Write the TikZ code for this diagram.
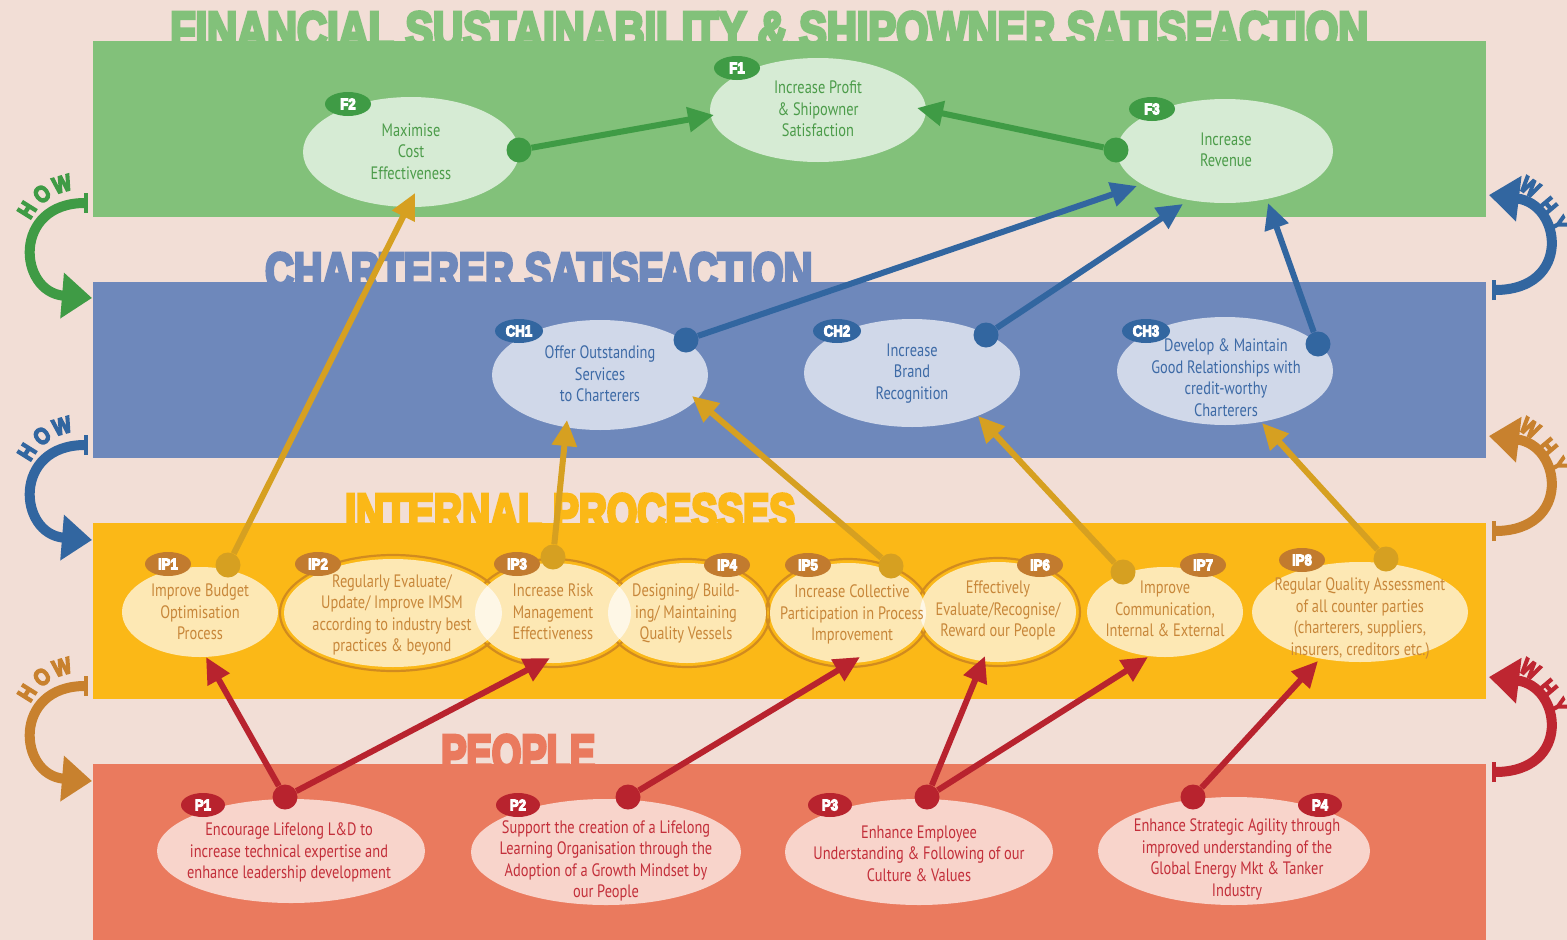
\documentclass[tikz,border=0pt]{standalone}
\usepackage{graphicx}
\usepackage{fontspec}
\setmainfont{PT Sans}
\newfontfamily\titlefont{Liberation Sans}
\usetikzlibrary{shapes.geometric,arrows.meta}
\definecolor{bg}{HTML}{F2DED6}
\definecolor{bandG}{HTML}{82C17A}
\definecolor{bandB}{HTML}{6E88BB}
\definecolor{bandY}{HTML}{FBB817}
\definecolor{bandR}{HTML}{EA7A5E}
\definecolor{darkG}{HTML}{3F9B45}
\definecolor{darkB}{HTML}{3266A0}
\definecolor{darkY}{HTML}{D6A021}
\definecolor{darkIP}{HTML}{C27B2E}
\definecolor{darkR}{HTML}{B8232E}
\definecolor{sideO}{HTML}{C8812E}
\definecolor{sideR}{HTML}{BE2631}
\definecolor{txtG}{HTML}{4C9C4A}
\definecolor{txtB}{HTML}{3D6AA6}
\definecolor{txtY}{HTML}{C8873A}
\definecolor{txtR}{HTML}{C32F3A}
\definecolor{ipline}{HTML}{D18B1F}
\newcommand{\tx}[1]{\scalebox{0.8}[1]{\begin{tabular}{@{}c@{}}#1\end{tabular}}}
\newcommand{\strk}[2]{\special{pdf:literal direct 2 Tr #1 w}#2\special{pdf:literal direct 0 Tr}}
\newcommand{\bx}[1]{\scalebox{0.85}[1]{\strk{1.6}{#1}}}
\newcommand{\bb}[1]{\scalebox{0.85}[1]{\strk{1.1}{#1}}}
\begin{document}
\begin{tikzpicture}[x=1pt,y=-1pt,
  ell/.style={ellipse, inner sep=0pt, fill=white, fill opacity=0.68, draw=none},
  base/.style={ellipse, inner sep=0pt, fill=bandY, draw=none},
  ring/.style={ellipse, inner sep=0pt, draw=ipline, line width=2.2pt},
  txt/.style={inner sep=0pt, font=\fontsize{18}{21.5}\selectfont},
  badge/.style={ellipse, inner sep=0pt, minimum width=46pt, minimum height=24pt, text=white, font=\titlefont\bfseries\fontsize{15.5}{15.5}\selectfont},
  dot/.style={circle, inner sep=0pt, minimum size=25pt},
  conn/.style={line width=6pt, -{Triangle[length=26pt,width=24pt]}},
  side/.style={line width=10pt, {Bar[width=20pt,line width=4pt]}-{Triangle[length=30pt,width=44pt]}},
  ttl/.style={anchor=base west, inner sep=0pt, font=\titlefont\bfseries},
  lbl/.style={inner sep=0pt, font=\titlefont\bfseries\fontsize{23}{23}\selectfont}
]
\useasboundingbox (0,0) rectangle (1567,940);
\fill[bg] (0,0) rectangle (1567,940);

% titles (partly covered by the bands)
\node[ttl, text=bandG] (t1) at (170,48) {\resizebox{1198pt}{36pt}{\strk{0.7}{FINANCIAL SUSTAINABILITY \& SHIPOWNER SATISFACTION}}};
\node[ttl, text=bandB] (t2) at (265,289) {\resizebox{547pt}{36pt}{\strk{0.7}{CHARTERER SATISFACTION}}};
\node[ttl, text=bandY] (t3) at (345,530) {\resizebox{450pt}{36pt}{\strk{0.7}{INTERNAL PROCESSES}}};
\node[ttl, text=bandR] (t4) at (441,771) {\resizebox{154pt}{36pt}{\strk{0.7}{PEOPLE}}};

% bands
\fill[bandG] (93,41) rectangle (1486,217);
\fill[bandB] (93,282) rectangle (1486,458);
\fill[bandY] (93,523) rectangle (1486,699);
\fill[bandR] (93,764) rectangle (1486,940);

% HOW arrows (left)
\coordinate (hs1) at (88,203); \coordinate (he1) at (92,298);
\draw[side, darkG] (hs1) .. controls (12,203) and (18,292) .. (he1);
\node[lbl, text=darkG, rotate=58] (hh1) at (27,210) {\bx{H}};
\node[lbl, text=darkG, rotate=38] (ho1) at (42,194) {\bx{O}};
\node[lbl, text=darkG, rotate=16] (hw1) at (62,184) {\bx{W}};

\coordinate (hs2) at (88,445); \coordinate (he2) at (92,540);
\draw[side, darkB] (hs2) .. controls (12,445) and (18,534) .. (he2);
\node[lbl, text=darkB, rotate=58] (hh2) at (27,452) {\bx{H}};
\node[lbl, text=darkB, rotate=38] (ho2) at (42,436) {\bx{O}};
\node[lbl, text=darkB, rotate=16] (hw2) at (62,426) {\bx{W}};

\coordinate (hs3) at (88,686); \coordinate (he3) at (92,781);
\draw[side, sideO] (hs3) .. controls (12,686) and (18,775) .. (he3);
\node[lbl, text=sideO, rotate=58] (hh3) at (27,693) {\bx{H}};
\node[lbl, text=sideO, rotate=38] (ho3) at (42,677) {\bx{O}};
\node[lbl, text=sideO, rotate=16] (hw3) at (62,667) {\bx{W}};

% WHY arrows (right)
\coordinate (ws1) at (1492,290); \coordinate (we1) at (1489,195);
\draw[side, darkB] (ws1) .. controls (1572,290) and (1562,204) .. (we1);
\node[lbl, text=darkB, rotate=-33] (yw1) at (1530,187) {\bx{W}};
\node[lbl, text=darkB, rotate=-50] (yh1) at (1548,206) {\bx{H}};
\node[lbl, text=darkB, rotate=-63] (yy1) at (1559,224) {\bx{Y}};

\coordinate (ws2) at (1492,531); \coordinate (we2) at (1489,436);
\draw[side, sideO] (ws2) .. controls (1572,531) and (1562,445) .. (we2);
\node[lbl, text=sideO, rotate=-33] (yw2) at (1530,428) {\bx{W}};
\node[lbl, text=sideO, rotate=-50] (yh2) at (1548,447) {\bx{H}};
\node[lbl, text=sideO, rotate=-63] (yy2) at (1559,465) {\bx{Y}};

\coordinate (ws3) at (1492,772); \coordinate (we3) at (1489,677);
\draw[side, sideR] (ws3) .. controls (1572,772) and (1562,686) .. (we3);
\node[lbl, text=sideR, rotate=-33] (yw3) at (1530,669) {\bx{W}};
\node[lbl, text=sideR, rotate=-50] (yh3) at (1548,688) {\bx{H}};
\node[lbl, text=sideR, rotate=-63] (yy3) at (1559,706) {\bx{Y}};

% ---------- Financial ----------
\node[ell, minimum width=216pt, minimum height=110pt] (F2) at (411,152) {};
\node[ell, minimum width=216pt, minimum height=104pt] (F1) at (818,110) {};
\node[ell, minimum width=216pt, minimum height=104pt] (F3) at (1225,151) {};
\node[txt, text=txtG] (F2t) at (411,153.5) {\tx{Maximise\\Cost\\Effectiveness}};
\node[txt, text=txtG] (F1t) at (818,111) {\tx{Increase Profit\\\& Shipowner\\Satisfaction}};
\node[txt, text=txtG] (F3t) at (1226,151.5) {\tx{Increase\\Revenue}};

% ---------- Charterer ----------
\node[ell, minimum width=216pt, minimum height=110pt] (CH1) at (600,375) {};
\node[ell, minimum width=216pt, minimum height=108pt] (CH2) at (912,373) {};
\node[ell, minimum width=216pt, minimum height=108pt] (CH3) at (1225,371) {};
\node[txt, text=txtB] (CH1t) at (600,376) {\tx{Offer Outstanding\\Services\\to Charterers}};
\node[txt, text=txtB] (CH2t) at (912,373.5) {\tx{Increase\\Brand\\Recognition}};
\node[txt, text=txtB] (CH3t) at (1226,379.5) {\tx{Develop \& Maintain\\Good Relationships with\\credit-worthy\\Charterers}};

% ---------- Internal processes ----------
\node[ring, minimum width=226pt, minimum height=116pt] (IP2r) at (393,613) {};
\node[ring, minimum width=164pt, minimum height=108pt] (IP3r) at (553,613) {};
\node[ring, minimum width=166pt, minimum height=108pt] (IP4r) at (687,613) {};
\node[ring, minimum width=164pt, minimum height=108pt] (IP5r) at (848,613) {};
\node[ring, minimum width=164pt, minimum height=108pt] (IP6r) at (998,612) {};
\node[base, minimum width=218pt, minimum height=108pt] (IP2b) at (393,613) {};
\node[base, minimum width=156pt, minimum height=100pt] (IP3b) at (553,613) {};
\node[base, minimum width=158pt, minimum height=100pt] (IP4b) at (687,613) {};
\node[base, minimum width=156pt, minimum height=100pt] (IP5b) at (848,613) {};
\node[base, minimum width=156pt, minimum height=100pt] (IP6b) at (998,612) {};
\node[ell, minimum width=156pt, minimum height=90pt] (IP1) at (200,612) {};
\node[ell, minimum width=218pt, minimum height=108pt] (IP2) at (393,613) {};
\node[ell, minimum width=156pt, minimum height=100pt] (IP3) at (553,613) {};
\node[ell, minimum width=158pt, minimum height=100pt] (IP4) at (687,613) {};
\node[ell, minimum width=156pt, minimum height=100pt] (IP5) at (848,613) {};
\node[ell, minimum width=156pt, minimum height=100pt] (IP6) at (998,612) {};
\node[ell, minimum width=156pt, minimum height=90pt] (IP7) at (1165,612) {};
\node[ell, minimum width=216pt, minimum height=100pt] (IP8) at (1360,612) {};
\node[txt, text=txtY] (IP1t) at (200,614) {\tx{Improve Budget\\Optimisation\\Process}};
\node[txt, text=txtY] (IP2t) at (392,615) {\tx{Regularly Evaluate/\\Update/ Improve IMSM\\according to industry best\\practices \& beyond}};
\node[txt, text=txtY] (IP3t) at (553,614) {\tx{Increase Risk\\Management\\Effectiveness}};
\node[txt, text=txtY] (IP4t) at (686,614) {\tx{Designing/ Build-\\ing/ Maintaining\\Quality Vessels}};
\node[txt, text=txtY] (IP5t) at (852,615) {\tx{Increase Collective\\Participation in Process\\Improvement}};
\node[txt, text=txtY] (IP6t) at (998,611) {\tx{Effectively\\Evaluate/Recognise/\\Reward our People}};
\node[txt, text=txtY] (IP7t) at (1165,611) {\tx{Improve\\Communication,\\Internal \& External}};
\node[txt, text=txtY] (IP8t) at (1360,618.5) {\tx{Regular Quality Assessment\\of all counter parties\\(charterers, suppliers,\\insurers, creditors etc.)}};

% ---------- People ----------
\node[ell, minimum width=268pt, minimum height=104pt] (P1) at (291,851) {};
\node[ell, minimum width=270pt, minimum height=106pt] (P2) at (606,852) {};
\node[ell, minimum width=268pt, minimum height=106pt] (P3) at (919,852) {};
\node[ell, minimum width=272pt, minimum height=108pt] (P4) at (1234,851) {};
\node[txt, text=txtR] (P1t) at (289,853) {\tx{Encourage Lifelong L\&D to\\increase technical expertise and\\enhance leadership development}};
\node[txt, text=txtR] (P2t) at (606,861) {\tx{Support the creation of a Lifelong\\Learning Organisation through the\\Adoption of a Growth Mindset by\\our People}};
\node[txt, text=txtR] (P3t) at (919,855.5) {\tx{Enhance Employee\\Understanding \& Following of our\\Culture \& Values}};
\node[txt, text=txtR] (P4t) at (1237,859.5) {\tx{Enhance Strategic Agility through\\improved understanding of the\\Global Energy Mkt \& Tanker\\Industry}};

% ---------- badges ----------
\node[badge, fill=darkG] (bF2) at (348,104) {\bb{F2}};
\node[badge, fill=darkG] (bF1) at (737,68) {\bb{F1}};
\node[badge, fill=darkG] (bF3) at (1152,109) {\bb{F3}};
\node[badge, fill=darkB, minimum width=48pt] (bCH1) at (519,331) {\bb{CH1}};
\node[badge, fill=darkB, minimum width=48pt] (bCH2) at (837,331) {\bb{CH2}};
\node[badge, fill=darkB, minimum width=48pt] (bCH3) at (1146,331) {\bb{CH3}};
\node[badge, fill=darkIP] (bIP1) at (168,564) {\bb{IP1}};
\node[badge, fill=darkIP] (bIP2) at (318,564) {\bb{IP2}};
\node[badge, fill=darkIP] (bIP3) at (517,564) {\bb{IP3}};
\node[badge, fill=darkIP] (bIP4) at (727,565) {\bb{IP4}};
\node[badge, fill=darkIP] (bIP5) at (808,565) {\bb{IP5}};
\node[badge, fill=darkIP] (bIP6) at (1040,565) {\bb{IP6}};
\node[badge, fill=darkIP] (bIP7) at (1203,565) {\bb{IP7}};
\node[badge, fill=darkIP] (bIP8) at (1302,560) {\bb{IP8}};
\node[badge, fill=darkR, minimum width=44pt] (bP1) at (203,805) {\bb{P1}};
\node[badge, fill=darkR, minimum width=44pt] (bP2) at (518,805) {\bb{P2}};
\node[badge, fill=darkR, minimum width=44pt] (bP3) at (830,805) {\bb{P3}};
\node[badge, fill=darkR, minimum width=44pt] (bP4) at (1320,805) {\bb{P4}};

% ---------- arrow targets ----------
\coordinate (F1in) at (714,115);
\coordinate (F1inR) at (917,108);
\coordinate (F2in) at (415,193);
\coordinate (F3inA) at (1137,186);
\coordinate (F3inB) at (1183,204);
\coordinate (F3inC) at (1268,203);
\coordinate (CH1inA) at (567,420);
\coordinate (CH1inB) at (692,396);
\coordinate (CH2in) at (978,416);
\coordinate (CH3in) at (1262,423);
\coordinate (IP1in) at (206,657);
\coordinate (IP3in) at (550,658);
\coordinate (IP5in) at (860,657);
\coordinate (IP6in) at (985,656);
\coordinate (IP7in) at (1148,657);
\coordinate (IP8in) at (1318,661);

% ---------- connectors ----------
\node[dot, fill=darkG] (dF2) at (519,150) {};
\node[dot, fill=darkG] (dF3) at (1116,150) {};
\draw[conn, darkG] (dF2) -- (F1in);
\draw[conn, darkG] (dF3) -- (F1inR);

\node[dot, fill=darkB] (dCH1) at (686,340) {};
\node[dot, fill=darkB] (dCH2) at (986,335) {};
\node[dot, fill=darkB] (dCH3) at (1318,344) {};
\draw[conn, darkB] (dCH1) -- (F3inA);
\draw[conn, darkB] (dCH2) -- (F3inB);
\draw[conn, darkB] (dCH3) -- (F3inC);

\node[dot, fill=darkY] (dIP1) at (228,565) {};
\node[dot, fill=darkY] (dIP3) at (553,557) {};
\node[dot, fill=darkY] (dIP5) at (891,566) {};
\node[dot, fill=darkY] (dIP7) at (1123,572) {};
\node[dot, fill=darkY] (dIP8) at (1386,559) {};
\draw[conn, darkY] (dIP1) -- (F2in);
\draw[conn, darkY] (dIP3) -- (CH1inA);
\draw[conn, darkY] (dIP5) -- (CH1inB);
\draw[conn, darkY] (dIP7) -- (CH2in);
\draw[conn, darkY] (dIP8) -- (CH3in);

\node[dot, fill=darkR] (dP1) at (285,797) {};
\node[dot, fill=darkR] (dP2) at (628,797) {};
\node[dot, fill=darkR] (dP3) at (927,797) {};
\node[dot, fill=darkR] (dP4) at (1193,797) {};
\draw[conn, darkR] (dP1) -- (IP1in);
\draw[conn, darkR] (dP1) -- (IP3in);
\draw[conn, darkR] (dP2) -- (IP5in);
\draw[conn, darkR] (dP3) -- (IP6in);
\draw[conn, darkR] (dP3) -- (IP7in);
\draw[conn, darkR] (dP4) -- (IP8in);
\end{tikzpicture}
\end{document}
